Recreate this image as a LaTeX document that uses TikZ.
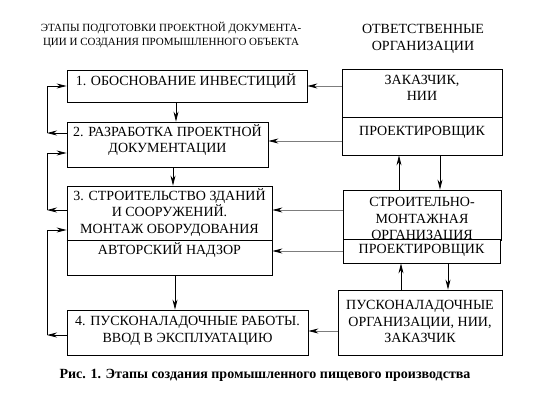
\documentclass[tikz,border=0pt]{standalone}
\usepackage{fontspec}
\setmainfont{Liberation Serif}
\usetikzlibrary{arrows.meta}
\definecolor{cus-grey}{RGB}{125, 125, 125}

\begin{document}
\begin{tikzpicture}[x=1pt, y=-1pt,
	box/.style={draw, rectangle, line width=.8pt, inner sep=0pt},
	txt/.style={align=center, inner sep=0pt, font=\fontsize{14}{16.5}\selectfont},
	arr/.style={line width=.8pt, -{Stealth[length=10pt, width=5pt]}},
	garr/.style={line width=.8pt, cus-grey, -{Stealth[length=10pt, width=5pt, color=black]}}]
\useasboundingbox (0 ,0) rectangle (538 ,400);
% headers
\node [txt, font=\fontsize{11}{14}\selectfont] (h1) at (171 ,35) {ЭТАПЫ ПОДГОТОВКИ ПРОЕКТНОЙ ДОКУМЕНТА-\\ЦИИ И СОЗДАНИЯ ПРОМЫШЛЕННОГО ОБЪЕКТА};
\node [txt] (h2) at (423 ,39) {ОТВЕТСТВЕННЫЕ\\ОРГАНИЗАЦИИ};
% stages
\node [box, minimum width=240pt, minimum height=32pt] (b1) at (187 ,86) {};
\node [txt] (t1) at (186 ,81) {1. ОБОСНОВАНИЕ ИНВЕСТИЦИЙ};
\node [box, minimum width=201pt, minimum height=45pt] (b2) at (167.5 ,144.5) {};
\node [txt] (t2) at (167.5 ,140) {2. РАЗРАБОТКА ПРОЕКТНОЙ\\ДОКУМЕНТАЦИИ};
\node [box, minimum width=205pt, minimum height=89pt] (b3) at (169.5 ,230.5) {};
\draw [line width=.8pt] (b3.west |- 0,240) -- (b3.east |- 0,240);
\node [txt] (t3) at (169.5 ,212.5) {3. СТРОИТЕЛЬСТВО ЗДАНИЙ\\И СООРУЖЕНИЙ.\\МОНТАЖ ОБОРУДОВАНИЯ};
\node [txt] (t3a) at (169.5 ,250) {АВТОРСКИЙ НАДЗОР};
\node [box, minimum width=241pt, minimum height=45pt] (b4) at (187.5 ,332.5) {};
\node [txt] (t4) at (187.5 ,331) {4. ПУСКОНАЛАДОЧНЫЕ РАБОТЫ.\\ВВОД В ЭКСПЛУАТАЦИЮ};
% organisations
\node [box, minimum width=160pt, minimum height=48pt] (r1) at (422 ,93) {};
\node [txt] (t5) at (422 ,88) {ЗАКАЗЧИК,\\НИИ};
\node [box, minimum width=160pt, minimum height=38pt] (r2) at (422 ,136) {};
\node [txt] (t6) at (422 ,132) {ПРОЕКТИРОВЩИК};
\node [box, minimum width=158pt, minimum height=50pt] (r3) at (422 ,215) {};
\node [txt] (t7) at (422 ,220) {СТРОИТЕЛЬНО-\\МОНТАЖНАЯ\\ОРГАНИЗАЦИЯ};
\node [box, fill=white, minimum width=157pt, minimum height=24pt] (r4) at (421.5 ,251) {};
\node [txt] (t8) at (421.5 ,250) {ПРОЕКТИРОВЩИК};
\node [box, minimum width=164pt, minimum height=65pt] (r5) at (420 ,322.5) {};
\node [txt] (t9) at (420 ,321.5) {ПУСКОНАЛАДОЧНЫЕ\\ОРГАНИЗАЦИИ, НИИ,\\ЗАКАЗЧИК};
% caption
\node [font=\bfseries\fontsize{14}{16}\selectfont, inner sep=0pt] (cap) at (265 ,375) {Рис. 1. Этапы создания промышленного пищевого производства};

% stage to stage
\draw [arr] (b1.south -| 176,0) -- (b2.north -| 176,0);
\draw [arr] (b2.south -| 173,0) -- (b3.north -| 173,0);
\draw [arr] (b3.south -| 175,0) -- (b4.north -| 175,0);
% organisations to stages
\draw [garr] (r1.west |- b1.east) -- (b1.east);
\draw [garr] (r2.west |- 0,141) -- (b2.east |- 0,141);
\draw [garr] (r3.west |- 0,210) -- (b3.east |- 0,210);
\draw [garr] (r4.west |- 0,251) -- (b3.east |- 0,251);
\draw [garr] (r5.west |- 0,331) -- (b4.east |- 0,331);
% between organisations
\draw [arr] (r3.north -| 399,0) -- (r2.south -| 399,0);
\draw [arr] (r2.south -| 440,0) -- (r3.north -| 440,0);
\draw [arr] (r5.north -| 401,0) -- (r4.south -| 401,0);
\draw [arr] (r4.south -| 448,0) -- (r5.north -| 448,0);
% feedback loops
\draw [arr] (b2.west |- 0,133) -- (47 ,133);
\draw [arr] (47 ,133) -- (47 ,86) -- (b1.west);
\draw [arr] (b3.west |- 0,210) -- (47 ,210);
\draw [arr] (47 ,210) -- (47 ,153) -- (b2.west |- 0,153);
\draw [arr] (b4.west |- 0,335) -- (47 ,335);
\draw [arr] (47 ,335) -- (47 ,230) -- (b3.west |- 0,230);
\end{tikzpicture}
\end{document}
